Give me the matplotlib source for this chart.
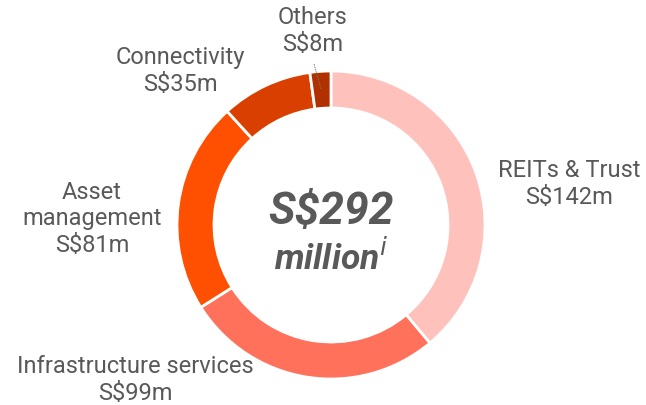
import matplotlib.pyplot as plt

# segment data, clockwise from 12 o'clock
segments = ['REITs & Trust', 'Infrastructure services', 'Asset management', 'Connectivity', 'Others']
values = [142, 99, 81, 35, 8]
colors = ['#ffc1bb', '#ff715b', '#fe5000', '#d94000', '#b03000']
label_text = ['REITs & Trust\nS$142m', 'Infrastructure services\nS$99m',
              'Asset\nmanagement\nS$81m', 'Connectivity\nS$35m', 'Others\nS$8m']
label_pos = [(569, 184), (135, 380), (92, 219), (180, 71), (313, 31)]
total_text = 'S$292'

plt.rcParams['font.family'] = ['Roboto', 'DejaVu Sans']
text_color = '#595959'

fig = plt.figure(figsize=(6.46, 4.06), dpi=100)
ax = fig.add_axes([0, 0, 1, 1])

# y axis runs downward (pixel-like), so "visual clockwise from top"
# is counterclockwise from -90 in data terms
ax.pie(values, colors=colors, startangle=-90, counterclock=True,
       center=(331, 226), radius=154, frame=True,
       wedgeprops=dict(width=37, edgecolor='white', linewidth=2))
ax.set_xlim(0, 646)
ax.set_ylim(406, 0)
ax.set_aspect('equal')
ax.axis('off')

for txt, (x, y) in zip(label_text, label_pos):
    ax.text(x, y, txt, ha='center', va='center', fontsize=17,
            color=text_color, linespacing=1.22)

# leader line for Others
ax.plot([314, 321], [65, 90], color='#777777', lw=0.6, ls=(0, (2, 1)))

ax.text(331, 212, total_text, ha='center', va='center', fontsize=32,
        fontweight='bold', fontstyle='italic', color=text_color)
ax.text(331, 258, r'million$^{i}$', ha='center', va='center', fontsize=25.5,
        fontweight='bold', fontstyle='italic', color=text_color)

fig.savefig('out.png', dpi=100)
